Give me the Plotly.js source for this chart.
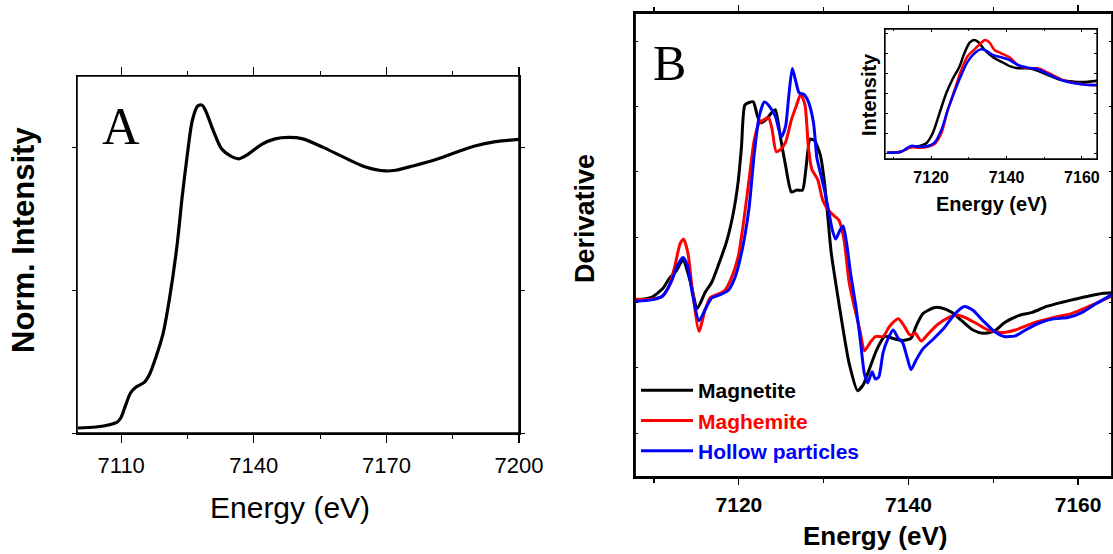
<!DOCTYPE html>
<html>
<head>
<meta charset="utf-8">
<script src="https://cdn.plot.ly/plotly-3.0.1.min.js"></script>
<style>html,body{margin:0;padding:0;background:#fff;}#chart{width:1113px;height:554px;}</style>
</head>
<body>
<div id="chart"></div>
<script>
// Panel A: normalized XANES
const energyA = [7100.2,7104.3,7109.0,7109.9,7110.9,7112.1,7113.3,7115.2,7116.4,7117.9,7119.5,7121.0,7122.6,7123.8,7124.9,7126.1,7127.3,7128.3,7129.2,7130.8,7132.7,7134.7,7136.6,7138.6,7141.7,7144.8,7147.9,7151.1,7155.7,7160.4,7165.1,7169.8,7172.1,7176.0,7180.7,7185.3,7190.0,7194.7,7200.0];
const intensityA = [0.035,0.042,0.075,0.105,0.186,0.28,0.32,0.354,0.41,0.536,0.70,0.956,1.305,1.655,1.935,2.19,2.29,2.296,2.25,2.12,1.99,1.94,1.92,1.95,2.02,2.06,2.07,2.06,2.00,1.93,1.865,1.835,1.84,1.87,1.91,1.96,2.01,2.04,2.056];

// Panel B: derivative spectra
const energyMagnetite = [7107.86,7109.7,7111.0,7111.8,7112.6,7113.4,7114.3,7115.1,7116.0,7116.8,7117.6,7118.5,7119.3,7119.9,7120.3,7120.7,7121.2,7121.7,7122.2,7122.6,7123.2,7123.9,7124.3,7124.9,7125.5,7126.2,7126.8,7127.5,7127.9,7128.4,7128.9,7129.6,7130.1,7130.5,7130.9,7131.6,7132.2,7133.0,7134.0,7134.7,7135.5,7136.3,7137.2,7138.2,7139.3,7140.3,7140.9,7141.7,7143.0,7143.8,7145.1,7146.3,7147.6,7148.8,7150.1,7151.3,7153.0,7154.6,7156.3,7158.0,7159.6,7161.3,7163.0,7164.0];
const derivMagnetite = [0.04,0.08,0.21,0.37,0.48,0.65,0.31,-0.09,0.15,0.31,0.58,0.91,1.34,1.83,2.37,3.02,3.06,3.07,2.85,2.75,2.80,2.91,2.95,2.53,2.10,1.69,1.72,1.72,2.04,2.50,2.48,2.26,1.83,1.29,0.75,0.15,-0.34,-0.93,-1.35,-1.25,-0.98,-0.71,-0.52,-0.55,-0.58,-0.55,-0.36,-0.17,-0.08,-0.08,-0.15,-0.28,-0.42,-0.47,-0.44,-0.31,-0.20,-0.15,-0.06,0.0,0.05,0.10,0.14,0.15];

const energyMaghemite = [7107.86,7109.7,7111.0,7111.8,7112.4,7113.1,7113.5,7114.0,7114.5,7115.3,7116.0,7116.6,7117.4,7118.3,7119.1,7119.9,7120.5,7121.2,7121.8,7122.4,7123.0,7123.5,7123.9,7124.4,7124.9,7125.5,7126.2,7126.8,7127.3,7127.8,7128.2,7128.6,7129.3,7129.9,7130.5,7131.1,7131.8,7132.4,7133.0,7133.6,7134.3,7134.8,7135.5,7136.1,7137.0,7137.8,7138.8,7139.5,7140.2,7140.8,7141.5,7142.4,7143.4,7144.7,7145.7,7146.7,7148.0,7149.4,7150.9,7152.6,7154.6,7157.1,7159.2,7161.3,7163.0,7164.0];
const derivMaghemite = [0.05,0.05,0.10,0.26,0.53,0.91,0.97,0.75,0.21,-0.44,-0.12,0.07,0.12,0.18,0.37,0.69,1.18,1.88,2.48,2.75,2.80,2.83,2.66,2.31,2.34,2.45,2.80,3.02,3.19,3.02,2.37,2.04,1.88,1.56,1.42,1.34,1.26,0.96,0.31,-0.06,-0.44,-0.74,-0.61,-0.52,-0.52,-0.36,-0.25,-0.36,-0.50,-0.47,-0.59,-0.47,-0.34,-0.23,-0.19,-0.23,-0.32,-0.42,-0.46,-0.42,-0.32,-0.23,-0.17,-0.06,0.04,0.10];

const energyHollow = [7107.86,7109.7,7111.0,7112.0,7112.8,7113.4,7113.9,7114.5,7115.3,7116.2,7116.8,7117.6,7118.7,7119.5,7120.3,7121.2,7121.8,7122.4,7123.0,7123.5,7124.3,7125.0,7125.5,7125.9,7126.3,7126.7,7127.1,7127.7,7128.2,7128.8,7129.2,7129.6,7130.1,7130.6,7131.0,7131.4,7131.9,7132.3,7132.7,7133.2,7133.8,7134.3,7134.8,7135.2,7135.7,7136.1,7136.5,7137.0,7137.6,7138.2,7138.8,7139.3,7139.8,7140.3,7140.9,7141.7,7143.0,7144.2,7145.5,7146.6,7147.6,7148.8,7150.1,7151.3,7152.6,7153.8,7155.5,7157.1,7158.8,7160.5,7162.1,7164.0];
const derivHollow = [0.02,0.04,0.10,0.31,0.58,0.69,0.58,0.15,-0.28,-0.06,0.07,0.11,0.18,0.37,0.75,1.45,2.26,2.85,3.07,3.02,2.85,2.53,2.69,3.18,3.58,3.39,3.21,3.18,3.07,2.75,2.21,1.99,1.72,1.39,1.12,0.97,1.10,1.17,0.91,0.42,-0.06,-0.55,-1.09,-1.23,-1.06,-1.17,-1.14,-0.77,-0.55,-0.42,-0.55,-0.61,-0.82,-1.03,-0.88,-0.71,-0.55,-0.39,-0.17,-0.06,-0.12,-0.28,-0.44,-0.52,-0.51,-0.42,-0.31,-0.25,-0.23,-0.15,-0.02,0.12];

// Inset: XANES intensity
const insetEnergyMagnetite = [7108.3,7112.0,7113.8,7114.9,7116.9,7118.7,7120.4,7122.2,7124.0,7125.8,7127.5,7128.8,7130.2,7131.3,7132.4,7134.2,7136.4,7138.6,7141.2,7143.0,7145.7,7148.3,7151.0,7154.5,7158.1,7161.6,7164.4];
const insetMagnetite = [0.003,0.013,0.047,0.063,0.07,0.097,0.197,0.397,0.597,0.747,0.863,0.997,1.103,1.13,1.113,1.03,0.957,0.913,0.863,0.847,0.847,0.823,0.78,0.73,0.713,0.713,0.723];
const insetEnergyMaghemite = [7108.3,7112.0,7113.8,7115.1,7116.9,7119.1,7120.9,7122.7,7124.4,7126.2,7128.0,7129.7,7131.5,7133.3,7134.3,7135.5,7136.8,7138.6,7140.8,7143.0,7145.7,7148.3,7151.0,7154.5,7158.1,7161.6,7164.4];
const insetMaghemite = [0.003,0.013,0.047,0.057,0.053,0.063,0.09,0.197,0.43,0.63,0.83,0.97,1.037,1.103,1.13,1.103,1.03,0.997,0.957,0.88,0.847,0.847,0.803,0.737,0.70,0.683,0.677];
const insetEnergyHollow = [7108.3,7112.0,7113.8,7114.9,7116.5,7119.1,7120.9,7122.7,7124.4,7126.2,7128.0,7129.7,7131.5,7133.3,7134.6,7136.4,7138.6,7140.8,7143.0,7145.7,7148.3,7151.0,7154.5,7158.1,7161.6,7164.4];
const insetHollow = [0.003,0.013,0.053,0.073,0.063,0.07,0.103,0.23,0.43,0.613,0.78,0.913,0.997,1.037,1.023,0.98,0.957,0.93,0.88,0.853,0.837,0.79,0.73,0.697,0.68,0.68];

const seriesNames = ['Magnetite','Maghemite','Hollow particles'];
const seriesColors = ['#000000','#ff0000','#0000ff'];

const W = 1113, H = 554;
const px = v => v / W;
const py = v => 1 - v / H;

const SANS = 'Liberation Sans, Arial, sans-serif';
const SERIF = 'Liberation Serif, Times New Roman, serif';

const traces = [
  {x: energyA, y: intensityA, xaxis: 'x', yaxis: 'y', mode: 'lines', line: {color: '#000', width: 3.2, shape: 'spline', smoothing: 0.8}, showlegend: false, hoverinfo: 'skip'},
];
const mainX = [energyMagnetite, energyMaghemite, energyHollow];
const mainY = [derivMagnetite, derivMaghemite, derivHollow];
const insX = [insetEnergyMagnetite, insetEnergyMaghemite, insetEnergyHollow];
const insY = [insetMagnetite, insetMaghemite, insetHollow];
for (let i = 0; i < 3; i++) {
  traces.push({x: mainX[i], y: mainY[i], xaxis: 'x2', yaxis: 'y2', mode: 'lines',
    name: '<span style="color:' + seriesColors[i] + '">' + seriesNames[i] + '</span>',
    line: {color: seriesColors[i], width: 3, shape: 'spline', smoothing: 0.6}, hoverinfo: 'skip'});
}
for (let i = 0; i < 3; i++) {
  traces.push({x: insX[i], y: insY[i], xaxis: 'x3', yaxis: 'y3', mode: 'lines', showlegend: false,
    line: {color: seriesColors[i], width: 2.5, shape: 'spline', smoothing: 0.8}, hoverinfo: 'skip'});
}

const frame = {showline: true, linecolor: '#000', linewidth: 1.5, mirror: 'allticks', showgrid: false, zeroline: false, fixedrange: true};

function box(xa, ya, w) {
  return {type: 'rect', xref: xa + ' domain', yref: ya + ' domain', x0: 0, x1: 1, y0: 0, y1: 1,
    line: {color: '#000', width: w}, fillcolor: 'rgba(0,0,0,0)', layer: 'above'};
}

const layout = {
  width: W, height: H,
  margin: {l: 0, r: 0, t: 0, b: 0},
  paper_bgcolor: '#fff', plot_bgcolor: 'rgba(0,0,0,0)',
  showlegend: true,
  legend: {x: px(636), y: py(370), xanchor: 'left', yanchor: 'top', bgcolor: 'rgba(0,0,0,0)',
    font: {family: SANS, size: 21, color: '#000', weight: 'bold'}, tracegroupgap: 0, itemwidth: 52},
  xaxis: Object.assign({}, frame, {domain: [px(77), px(519)], range: [7100, 7200], anchor: 'y',
    tickmode: 'linear', tick0: 7110, dtick: 30, ticks: 'outside', ticklen: 8, tickwidth: 1.2, tickcolor: '#000',
    minor: {tickmode: 'linear', tick0: 7125, dtick: 30, ticks: 'outside', ticklen: 4, tickcolor: '#000'},
    tickfont: {family: SANS, size: 22, color: '#000'}, ticklabelstandoff: 4}),
  yaxis: Object.assign({}, frame, {domain: [py(433), py(76)], range: [0, 2.5], anchor: 'x',
    tickmode: 'linear', tick0: 0, dtick: 1, ticks: 'outside', ticklen: 4, tickcolor: '#000', showticklabels: false}),
  xaxis2: Object.assign({}, frame, {domain: [px(635), px(1112)], range: [7107.75, 7164], anchor: 'y2', linewidth: 1.8,
    tickmode: 'linear', tick0: 7120, dtick: 20, ticks: 'outside', ticklen: 6, tickwidth: 1.2, tickcolor: '#000',
    minor: {tickmode: 'linear', tick0: 7110, dtick: 20, ticks: 'outside', ticklen: 4, tickcolor: '#000'},
    tickfont: {family: SANS, size: 21, color: '#000', weight: 'bold'}, ticklabelstandoff: 2}),
  yaxis2: Object.assign({}, frame, {domain: [py(477), py(13)], range: [-2.67, 4.43], anchor: 'x2', linewidth: 1.8,
    tickmode: 'linear', tick0: 0, dtick: 1, ticks: 'inside', ticklen: 3, tickcolor: '#000', showticklabels: false}),
  xaxis3: Object.assign({}, frame, {domain: [px(885), px(1097)], range: [7107.75, 7164], anchor: 'y3', linewidth: 1.3,
    tickmode: 'linear', tick0: 7120, dtick: 20, ticks: 'inside', ticklen: 3, tickcolor: '#000',
    minor: {tickmode: 'linear', tick0: 7110, dtick: 20, ticks: 'inside', ticklen: 2, tickcolor: '#000'},
    tickfont: {family: SANS, size: 16, color: '#000', weight: 'bold'}, ticklabelstandoff: 3}),
  yaxis3: Object.assign({}, frame, {domain: [py(159), py(29)], range: [-0.06, 1.24], anchor: 'x3', linewidth: 1.3,
    tickmode: 'linear', tick0: 0, dtick: 0.2, ticks: 'inside', ticklen: 3, tickcolor: '#000', showticklabels: false}),
  shapes: [box('x', 'y', 1.5), box('x2', 'y2', 1.8), box('x3', 'y3', 1.3)],
  annotations: [
    {text: 'A', xref: 'paper', yref: 'paper', x: px(121), y: py(126), xanchor: 'center', yanchor: 'middle', showarrow: false,
      font: {family: SERIF, size: 52, color: '#000'}},
    {text: 'B', xref: 'paper', yref: 'paper', x: px(670), y: py(63), xanchor: 'center', yanchor: 'middle', showarrow: false,
      font: {family: SERIF, size: 50, color: '#000'}},
    {text: 'Norm. Intensity', xref: 'paper', yref: 'paper', x: px(24), y: py(240), xanchor: 'center', yanchor: 'middle', textangle: -90, showarrow: false,
      font: {family: SANS, size: 31, color: '#000', weight: 'bold'}},
    {text: 'Energy (eV)', xref: 'paper', yref: 'paper', x: px(290), y: py(507), xanchor: 'center', yanchor: 'middle', showarrow: false,
      font: {family: SANS, size: 30, color: '#000'}},
    {text: 'Derivative', xref: 'paper', yref: 'paper', x: px(585), y: py(218), xanchor: 'center', yanchor: 'middle', textangle: -90, showarrow: false,
      font: {family: SANS, size: 27, color: '#000', weight: 'bold'}},
    {text: 'Energy (eV)', xref: 'paper', yref: 'paper', x: px(875), y: py(536), xanchor: 'center', yanchor: 'middle', showarrow: false,
      font: {family: SANS, size: 26, color: '#000', weight: 'bold'}},
    {text: 'Intensity', xref: 'paper', yref: 'paper', x: px(869), y: py(95), xanchor: 'center', yanchor: 'middle', textangle: -90, showarrow: false,
      font: {family: SANS, size: 20, color: '#000', weight: 'bold'}},
    {text: 'Energy (eV)', xref: 'paper', yref: 'paper', x: px(991), y: py(204), xanchor: 'center', yanchor: 'middle', showarrow: false,
      font: {family: SANS, size: 20, color: '#000', weight: 'bold'}}
  ]
};

Plotly.newPlot('chart', traces, layout, {staticPlot: true, displayModeBar: false});
</script>
</body>
</html>
